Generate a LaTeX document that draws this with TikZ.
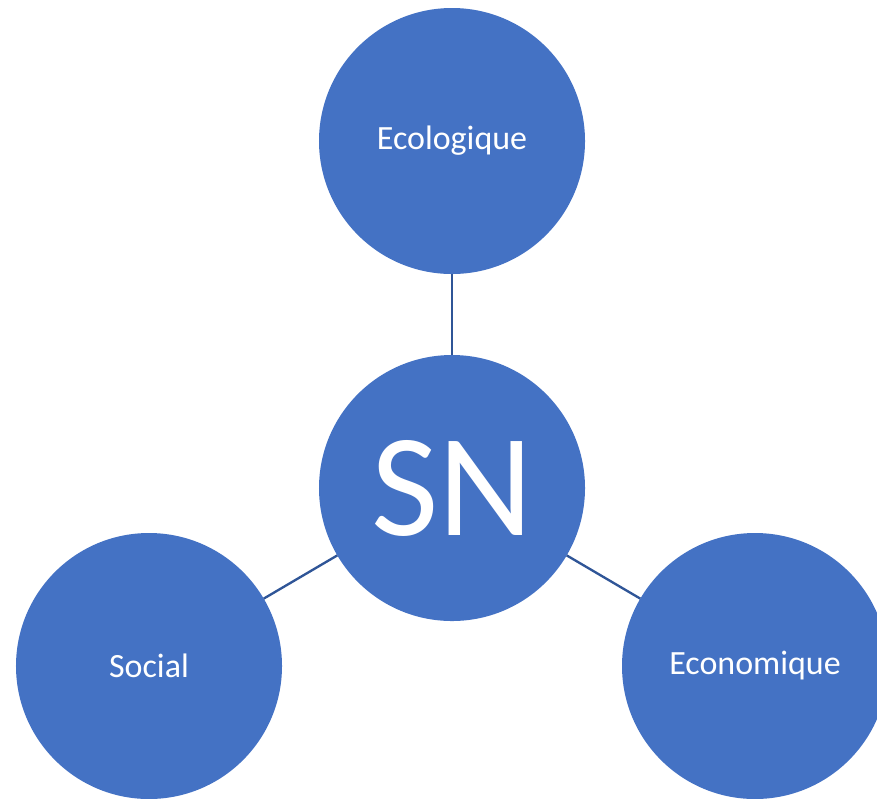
\documentclass[tikz,border=0pt]{standalone}
\usepackage{fontspec}
\setmainfont{Carlito}
\usepackage{xcolor}
\usetikzlibrary{positioning}

\definecolor{pillarblue}{HTML}{4472C4}
\definecolor{linkblue}{HTML}{2F5597}

\tikzset{
    pillar/.style={circle, fill=pillarblue, minimum size=7.98cm, inner sep=0pt, outer sep=0pt,
        text=white, font=\fontsize{29}{35}\selectfont},
    link/.style={draw=linkblue, line width=2pt}
}

\begin{document}
\begin{tikzpicture}[x=0.03cm, y=-0.03cm]
    \useasboundingbox (0,0) rectangle (877,798);
    \clip (0,0) rectangle (877,798);
    % Three pillars round the centre
    \node[pillar] (eco) at (452,141) {Ecologique};
    \node[pillar] (soc) at (149,666) {Social};
    \node[pillar] (econ) at (755,666) {Economique};
    \node[pillar, font=\fontsize{125}{130}\selectfont] (sn) at (452,488) {SN};

    % Connectors
    \foreach \p in {eco, soc, econ} {
        \draw[link] (sn) -- (\p);
    }
\end{tikzpicture}
\end{document}
